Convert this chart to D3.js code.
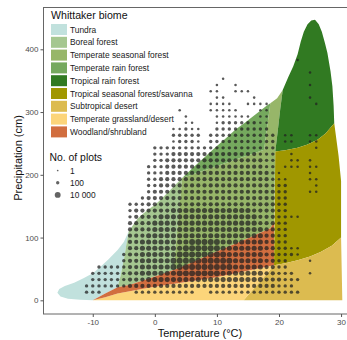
<!DOCTYPE html>
<html>
<head>
<meta charset="utf-8">
<script src="https://cdn.jsdelivr.net/npm/d3@7"></script>
<style>
  body { margin: 0; background: #fff; }
  svg { display: block; font-family: "Liberation Sans", Arial, sans-serif; }
</style>
</head>
<body>
<svg width="347" height="340"></svg>
<script>
// biome names and fills, legend order
const biomeNames = ['Tundra', 'Boreal forest', 'Temperate seasonal forest', 'Temperate rain forest',
  'Tropical rain forest', 'Tropical seasonal forest/savanna', 'Subtropical desert',
  'Temperate grassland/desert', 'Woodland/shrubland'];
const biomeColors = ['#C1E1DD', '#A5C790', '#97B669', '#75A95E', '#317A22',
  '#A09700', '#DCBB50', '#FCD57A', '#D16E3F'];

// polygon outlines, [temperature °C, precipitation cm]
const tundra = [[-10,0.3],[-12,1],[-14,2.5],[-15.2,6],[-15.7,12],[-15.4,18],[-14.5,23],[-13,28],[-11.5,35],
  [-10,43],[-8.8,53],[-7.5,65],[-6,80],[-5,93],[-4.2,110],[-4.6,88],[-5,64],[-5.5,40],[-6,21],[-8,11]];
const boreal = [[-6,21],[-5.5,40],[-5,64],[-4.6,88],[-4.2,110],[-3.5,120],[-2.8,130],[-2,137],[-1,145],
  [0,152],[1,161],[2,171],[3,181],[4.4,195],[3,48.5],[0,38],[-4,25]];
const tempSeasonal = [[3,48.5],[4.4,195],[17.6,240],[18.6,314],[19.7,322],[20.6,335],[20.2,305],[19.8,270],
  [19.4,237],[19.2,125],[18.6,115],[15,99],[9.5,76],[4,52]];
const tempRain = [[4.4,195],[6,210],[8,228],[10,246],[11.4,258],[13,272],[14.5,283],[16.2,296],[18,310],
  [18.6,314],[17.6,240]];
const tropRain = [[19.4,237],[19.8,270],[20.2,305],[20.6,335],[21.5,356],[22.3,373],[23,392],[23.5,412],
  [24,428],[24.6,440],[25.2,446],[25.8,447],[26.4,440],[26.9,428],[27.4,410],[27.8,394],[28.3,365],
  [28.6,341],[28.8,310],[28.9,282],[27.5,266],[26.2,256],[24.5,248],[23,243],[21,239]];
const savanna = [[19.2,56],[21,59],[23,64],[25,70],[26.7,77],[28.5,87],[30,100],[30,190],[29.6,230],
  [28.9,282],[27.5,266],[26.2,256],[24.5,248],[23,243],[21,239],[19.4,237]];
const subDesert = [[14.3,0],[30.2,0],[30,100],[28.5,87],[26.7,77],[25,70],[23,64],[21,59],[19.2,56]];
const grassland = [[-10,0],[14.3,0],[19.2,56],[9.5,36],[-1,20],[-6,11],[-8,5]];
const woodland = [[-10,0],[-8,5],[-6,11],[-1,20],[9.5,36],[19.2,56],[19.2,125],[18.6,115],[15,99],
  [9.5,76],[4,52],[0,38],[-4,25],[-6,21],[-8,11]];
const biomeShapes = [tundra, boreal, tempSeasonal, tempRain, tropRain, savanna, subDesert, grassland, woodland];

// plot counts: one string per precipitation row, one char per 1 °C column from -12 °C to 27 °C
// '.' = no plots, '1'..'6' = size class
const tempStart = -12;
const precipRows = [383, 363, 353, 343, 333, 323, 313, 303, 293, 283, 273, 263, 253, 243, 233, 223, 213,
  203, 193, 183, 173, 163, 153, 143, 133, 123, 113, 103, 93, 83, 73, 63, 53, 43, 33, 23, 13];
const plotRows = [
  '..........' + '..........' + '..........' + '.....2....',
  '..........' + '..........' + '..........' + '.......2..',
  '..........' + '..........' + '...2......' + '..........',
  '..........' + '..........' + '..2..2....' + '.......2..',
  '..........' + '..........' + '.22..222..' + '..........',
  '..........' + '..........' + '..22....2.' + '.......2..',
  '..........' + '..........' + '.2222..222' + '2.......2.',
  '..........' + '......2...' + '.22222...2' + '2.........',
  '..........' + '.......2..' + '..222222.2' + '2.........',
  '..........' + '.......22.' + '..23333332' + '2.........',
  '..........' + '.....22322' + '..33333333' + '3.........',
  '..........' + '.....33333' + '.333333333' + '33.22..22.',
  '..........' + '.....23332' + '.333333333' + '33.22..22.',
  '..........' + '..33333333' + '3333333333' + '33......2.',
  '..........' + '..33344444' + '4444444443' + '33..2.....',
  '..........' + '..33444444' + '4444444444' + '33..22.2..',
  '..........' + '.333444444' + '4444444444' + '33.222.22.',
  '..........' + '.333444444' + '4444444444' + '432....2..',
  '..........' + '.334444444' + '4444444444' + '4322...22.',
  '..........' + '.334444444' + '4444444444' + '4333....2.',
  '..........' + '.344444444' + '4444444444' + '4433...22.',
  '..........' + '3444444444' + '4444444444' + '4433......',
  '........33' + '3444444444' + '4444444444' + '4433......',
  '........34' + '4444455555' + '5555555544' + '4433......',
  '........34' + '4445555555' + '5555555554' + '443322....',
  '........44' + '4455555555' + '5555555554' + '4433......',
  '........44' + '4455555555' + '5555555555' + '4433......',
  '........44' + '4555555555' + '5555555555' + '4433......',
  '........44' + '5555555566' + '6665555555' + '4433......',
  '........44' + '5555555666' + '6665555555' + '443322....',
  '.......344' + '5555556666' + '6666555555' + '443332....',
  '.......344' + '5555566666' + '6666655555' + '4433...2..',
  '...3333344' + '5555566666' + '6666655555' + '4433......',
  '..33333344' + '5555556666' + '6665555555' + '44333..2..',
  '..33333344' + '4555555555' + '5555555555' + '444333....',
  '.333333344' + '4444444444' + '4444444444' + '44333.....',
  '.333.....3' + '333333333.' + '.333333333' + '333333....'
];

const sizeLabels = ['1', '100', '10 000'];
const sizeClasses = [1, 3, 6];
const xTicks = [-10, 0, 10, 20, 30];
const yTicks = [0, 100, 200, 300, 400];

const svg = d3.select('svg');

const x = d3.scaleLinear().domain([-18, 33]).range([43.1, 359.7]);
const y = d3.scaleLinear().domain([-21.8, 467.4]).range([314, 7]);
const r = d3.scaleLinear().domain([1, 6]).range([0.85, 2.95]);

svg.append('clipPath').attr('id', 'panel')
  .append('rect').attr('x', 43.5).attr('y', 7.5).attr('width', 320).attr('height', 306.5);

const line = d3.line().x(d => x(d[0])).y(d => y(d[1]));

svg.append('g')
  .attr('clip-path', 'url(#panel)')
  .selectAll('path')
  .data(biomeShapes)
  .enter().append('path')
  .attr('d', d => line(d) + 'Z')
  .attr('fill', (d, i) => biomeColors[i]);

// plot dots
const dots = [];
plotRows.forEach((row, i) => {
  for (let j = 0; j < row.length; j++) {
    const c = +row[j];
    if (c > 0) dots.push({ t: tempStart + j, p: precipRows[i], s: c });
  }
});

svg.append('g')
  .attr('clip-path', 'url(#panel)')
  .selectAll('circle')
  .data(dots)
  .enter().append('circle')
  .attr('cx', d => x(d.t))
  .attr('cy', d => y(d.p))
  .attr('r', d => r(d.s))
  .attr('fill', '#222')
  .attr('fill-opacity', 0.75);

// panel border
svg.append('rect')
  .attr('x', 43.5).attr('y', 7.5).attr('width', 320).attr('height', 306.5)
  .attr('fill', 'none').attr('stroke', '#666').attr('stroke-width', 1);

// axes
const xAxis = svg.append('g')
  .attr('transform', 'translate(0,314)')
  .call(d3.axisBottom(x).tickValues(xTicks).tickSize(3).tickPadding(2).tickFormat(String));
const yAxis = svg.append('g')
  .attr('transform', 'translate(43.5,0)')
  .call(d3.axisLeft(y).tickValues(yTicks).tickSize(3).tickPadding(2).tickFormat(String));
[xAxis, yAxis].forEach(a => {
  a.select('.domain').remove();
  a.selectAll('line').attr('stroke', '#555');
  a.selectAll('text').attr('fill', '#4d4d4d').style('font-size', '8px')
    .style('font-family', '"Liberation Sans", Arial, sans-serif');
});

svg.append('text')
  .attr('x', 200).attr('y', 336.5)
  .attr('text-anchor', 'middle')
  .style('font-size', '11px').attr('fill', '#111')
  .text('Temperature (°C)');

svg.append('text')
  .attr('transform', 'translate(21.5,158) rotate(-90)')
  .attr('text-anchor', 'middle')
  .style('font-size', '11px').attr('fill', '#111')
  .text('Precipitation (cm)');

// biome legend
const legend = svg.append('g');
legend.append('text')
  .attr('x', 51).attr('y', 19.3)
  .style('font-size', '10.6px').attr('fill', '#111')
  .text('Whittaker biome');

const keys = legend.selectAll('g.key')
  .data(biomeNames)
  .enter().append('g')
  .attr('class', 'key')
  .attr('transform', (d, i) => `translate(51,${24 + i * 12.8})`);
keys.append('rect')
  .attr('width', 16).attr('height', 11)
  .attr('fill', (d, i) => biomeColors[i]);
keys.append('text')
  .attr('x', 19).attr('y', 8.6)
  .style('font-size', '8.4px').attr('fill', '#1a1a1a')
  .text(d => d);

// size legend
legend.append('text')
  .attr('x', 49.5).attr('y', 160.5)
  .style('font-size', '10.4px').attr('fill', '#111')
  .text('No. of plots');

const sizes = legend.selectAll('g.size')
  .data(sizeLabels)
  .enter().append('g')
  .attr('class', 'size')
  .attr('transform', (d, i) => `translate(0,${170.5 + i * 12.2})`);
sizes.append('circle')
  .attr('cx', 57.7).attr('cy', 0)
  .attr('r', (d, i) => r(sizeClasses[i]))
  .attr('fill', '#222').attr('fill-opacity', 0.7);
sizes.append('text')
  .attr('x', 70).attr('y', 3)
  .style('font-size', '8.4px').attr('fill', '#1a1a1a')
  .text(d => d);
</script>
</body>
</html>
